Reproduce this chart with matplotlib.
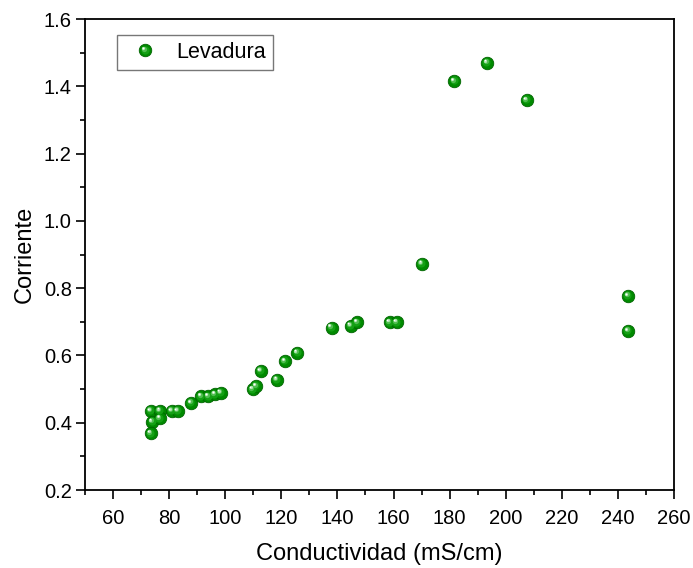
import matplotlib
matplotlib.use("Agg")
import matplotlib.pyplot as plt
import matplotlib.transforms as mtransforms
from matplotlib.ticker import MultipleLocator, FormatStrFormatter
from matplotlib.lines import Line2D
from matplotlib.legend_handler import HandlerBase

plt.rcParams['font.family'] = ['Liberation Sans', 'DejaVu Sans']

conductividad = [73.4, 76.7, 74.0, 76.7, 73.4, 80.9, 83.0, 87.8, 91.4, 94.0, 96.3, 98.4,
                 109.8, 111.0, 112.6, 118.4, 121.3, 125.7, 137.9, 144.7, 147.0, 158.6, 161.1,
                 170.1, 181.7, 193.4, 207.5, 243.7, 243.7]
corriente = [0.435, 0.436, 0.403, 0.413, 0.368, 0.435, 0.435, 0.459, 0.478, 0.478, 0.484, 0.489,
             0.499, 0.509, 0.554, 0.528, 0.583, 0.608, 0.683, 0.688, 0.698, 0.698, 0.698,
             0.873, 1.415, 1.470, 1.359, 0.777, 0.673]
serie = "Levadura"
xlabel = "Conductividad (mS/cm)"
ylabel = "Corriente"

fig = plt.figure(figsize=(6.93, 5.68), dpi=100)
ax = fig.add_axes([0.1227, 0.1373, 0.8499, 0.8292])

ms = 9.0
# sphere-like markers: base + highlight layers
ax.plot(conductividad, corriente, 'o', ms=ms, color='#008a00', mec='#006400', mew=0.6, zorder=3)
layers = [(0.65, '#14a014', 0.6), (0.42, '#50bd50', 1.1), (0.26, '#b0e4b0', 1.5), (0.13, '#ffffff', 1.7)]
for frac, col, off in layers:
    tr = ax.transData + mtransforms.ScaledTranslation(-off / 72, off / 72, fig.dpi_scale_trans)
    ax.plot(conductividad, corriente, 'o', ms=ms * frac, color=col, mew=0, transform=tr, zorder=4)

ax.set_xlim(50, 260)
ax.set_ylim(0.2, 1.6)
ax.set_xticks([60, 80, 100, 120, 140, 160, 180, 200, 220, 240, 260])
ax.xaxis.set_minor_locator(MultipleLocator(10))
ax.yaxis.set_major_locator(MultipleLocator(0.2))
ax.yaxis.set_minor_locator(MultipleLocator(0.1))
ax.tick_params(which='major', direction='out', length=6.5, width=1.2, labelsize=14.5,
               top=False, right=False)
ax.tick_params(axis='x', which='major', pad=7)
ax.tick_params(axis='y', which='major', pad=3)
ax.tick_params(which='minor', direction='out', length=3.6, width=1.2, top=False, right=False)
ax.yaxis.set_major_formatter(FormatStrFormatter('%.1f'))
for s in ax.spines.values():
    s.set_linewidth(1.3)

ax.set_xlabel(xlabel, fontsize=17, labelpad=11)
ax.set_ylabel(ylabel, fontsize=17, labelpad=6)


class SphereHandler(HandlerBase):
    def create_artists(self, legend, orig_handle, xdescent, ydescent, width, height, fontsize, trans):
        cx = width / 2 - xdescent
        cy = height / 2 - ydescent
        arts = []
        base = Line2D([cx], [cy], marker='o', ms=ms, color='#008a00', mec='#006400', mew=0.6, ls='')
        base.set_transform(trans)
        arts.append(base)
        for frac, col, off in layers:
            l = Line2D([cx - off], [cy + off], marker='o', ms=ms * frac, color=col, mew=0, ls='')
            l.set_transform(trans)
            arts.append(l)
        return arts


h = Line2D([], [], marker='o', ls='')
leg = ax.legend([h], [serie], handler_map={Line2D: SphereHandler()}, loc='upper left',
                bbox_to_anchor=(0.0543, 0.966), fontsize=15.5, frameon=True, fancybox=False,
                edgecolor='#555555', handlelength=2.0, handletextpad=0.45, borderpad=0.32,
                borderaxespad=0)
leg.get_frame().set_linewidth(1.0)

fig.savefig('out.png', dpi=100)
